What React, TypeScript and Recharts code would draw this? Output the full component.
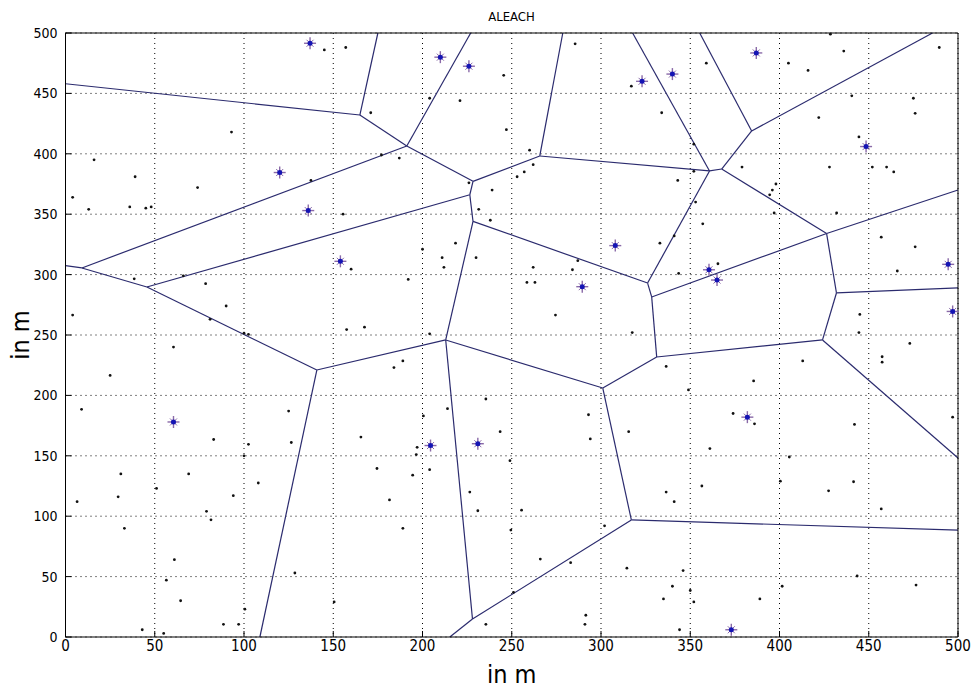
import { ScatterChart, Scatter, XAxis, YAxis, CartesianGrid, ReferenceLine, Label } from 'recharts'

const FONT = "'Liberation Sans Narrow', 'DejaVu Sans Condensed', 'Liberation Sans', sans-serif"

const TICKS = [0, 50, 100, 150, 200, 250, 300, 350, 400, 450, 500]

// ordinary sensor nodes [x, y] in m
const nodes: [number, number][] = [
  [145, 486], [157, 488], [93, 418], [16, 395], [39, 381], [74, 372], [137.5, 378], [4, 364],
  [13, 354], [36, 356], [45, 355], [48, 356], [155.5, 350],
  [285.5, 491], [245.5, 465], [317, 456], [334, 434], [221, 444], [171, 434], [247, 420], [260, 403],
  [177, 399], [187, 396.5], [262, 391], [257, 385], [253, 381], [226, 376], [239, 370], [231.5, 354],
  [238, 345], [204, 446],
  [428.5, 499], [436, 485], [489.5, 488], [359, 475], [405, 475], [416, 469], [440.5, 448], [475, 446],
  [476, 433.5], [422, 430], [444.5, 414], [428, 389], [452, 389], [460, 389], [464, 385], [379, 389],
  [352, 408], [352, 385.5], [343, 378], [398, 375], [396, 370], [394.5, 366], [397, 351], [432, 351],
  [353, 360], [357, 342], [457, 331], [341, 332],
  [476, 323], [466, 303], [365.5, 309], [343.5, 301], [333, 326], [445, 267], [444.5, 252], [473, 243],
  [457.5, 232], [457.5, 227.5], [413, 228.5], [336.5, 224], [385.5, 212], [349, 204.5], [374, 185],
  [386, 176.5], [442, 176], [497, 182],
  [218.5, 326], [200, 321], [211, 314], [230, 314], [212, 306], [192, 296], [287, 311.5], [262, 306],
  [284, 304], [258.5, 293.5], [263, 293.5], [274.5, 266.5], [167.5, 256.5], [204, 251], [317.5, 252],
  [189, 228.5], [184, 223], [235.5, 197], [214, 189], [200.5, 183], [293, 184], [315.5, 170], [294, 164],
  [243.5, 170], [165.5, 165.5],
  [160, 304.5], [38.5, 296.5], [78.5, 292.5], [90, 274], [4, 266.5], [81, 263], [66, 299], [100, 251.5],
  [102.5, 250.5], [60.5, 240], [157.5, 254.5], [25, 216.5], [9, 188.5], [125, 187], [83, 163.5],
  [102.5, 159.5], [126.5, 161],
  [100, 150], [31, 135], [69, 135], [51, 123], [108, 127.5], [6.5, 112], [29.5, 116], [94, 117], [79, 104],
  [81.5, 97], [33, 90], [61, 64], [128.5, 53], [56.5, 47], [64.5, 30], [100.5, 23], [150.5, 29],
  [88.5, 10.5], [97, 10.5], [43, 6], [55, 3],
  [197, 157], [196.5, 151], [174.5, 139.5], [204, 138.5], [194.5, 134], [249, 146], [226.5, 120],
  [181.5, 113.5], [231, 104.5], [255.5, 105], [189, 90], [249.5, 88.5], [302, 92], [266, 64.5],
  [283, 61.5], [314.5, 57], [335, 31.5], [251, 37], [291.5, 18], [291, 10.5], [235.5, 10.5],
  [361, 156], [405.5, 149], [400.5, 129], [336.5, 120], [356.5, 125], [341, 112], [427.5, 121],
  [441.5, 128.5], [457, 106], [346, 55], [340, 42], [350, 38.5], [352, 29], [389, 31.5], [401.5, 42],
  [443.5, 50.5], [476.5, 43], [344, 6],
]

// cluster heads
const heads: [number, number][] = [
  [137, 491.5], [120, 384.5], [136, 353], [210, 480], [226, 472.5], [323, 460], [387, 483.5],
  [340, 466], [448.5, 406], [154, 311], [308, 324], [289.5, 290], [360.5, 304], [365, 295.5],
  [494.5, 308.5], [497, 269.5], [60.5, 178], [204.5, 158.5], [231, 160], [382, 182], [373, 6],
]

// voronoi edges [x1, y1, x2, y2]
const edges: [number, number, number, number][] = [
  [0, 458, 164.9, 432.1], [175, 500, 164.9, 432.1], [164.9, 432.1, 191.2, 406.5], [191.2, 406.5, 227, 500],
  [191.2, 406.5, 9.2, 305.5], [9.2, 305.5, 0, 307.5], [9.2, 305.5, 45.6, 289.7], [45.6, 289.7, 226.5, 366.1],
  [45.6, 289.7, 140.8, 221], [140.8, 221, 108.9, 0], [140.8, 221, 213, 245.9], [191.2, 406.5, 228.3, 377.2],
  [228.3, 377.2, 226.5, 366.1], [226.5, 366.1, 228.3, 344.1], [228.3, 377.2, 265.7, 398.2],
  [265.7, 398.2, 278.6, 500], [265.7, 398.2, 360.8, 385.8], [228.3, 344.1, 213, 245.9],
  [228.3, 344.1, 326.1, 293], [213, 245.9, 301, 206.1], [213, 245.9, 228, 14.9], [228, 14.9, 215.3, 0],
  [228, 14.9, 317, 96.9], [317, 96.9, 301, 206.1], [317, 96.9, 500, 88.5], [301, 206.1, 331.2, 231.8],
  [331.2, 231.8, 328.4, 281.5], [328.4, 281.5, 326.1, 293], [326.1, 293, 360.8, 385.8],
  [360.8, 385.8, 317.7, 500], [360.8, 385.8, 367.6, 387.4], [367.6, 387.4, 384.4, 418.9],
  [384.4, 418.9, 355.3, 500], [384.4, 418.9, 485.7, 500], [367.6, 387.4, 426.4, 334],
  [426.4, 334, 328.4, 281.5], [426.4, 334, 500, 370], [426.4, 334, 431.9, 284.8], [431.9, 284.8, 500, 289],
  [431.9, 284.8, 424.1, 245.9], [424.1, 245.9, 331.2, 231.8], [424.1, 245.9, 500, 148.2],
]

const nodeData = nodes.map(([x, y]) => ({ x, y }))
const headData = heads.map(([x, y]) => ({ x, y }))

const NodeDot = (p: any) => <circle cx={p.cx} cy={p.cy} r={1.4} fill="#111" />

const HeadStar = (p: any) => {
  const { cx, cy } = p
  return (
    <g>
      <line x1={cx - 6} y1={cy} x2={cx + 6} y2={cy} stroke="#8a6aa8" strokeWidth={1.4} />
      <line x1={cx} y1={cy - 6} x2={cx} y2={cy + 6} stroke="#8a6aa8" strokeWidth={1.4} />
      <line x1={cx - 3.5} y1={cy - 3.5} x2={cx + 3.5} y2={cy + 3.5} stroke="#8a6aa8" strokeWidth={1} />
      <line x1={cx - 3.5} y1={cy + 3.5} x2={cx + 3.5} y2={cy - 3.5} stroke="#8a6aa8" strokeWidth={1} />
      <circle cx={cx} cy={cy} r={2.5} fill="#1414b4" />
    </g>
  )
}

const tickStyle = { fontSize: 15, fill: '#000', fontFamily: FONT }

export default function App() {
  return (
    <div style={{ position: 'absolute', left: 0, top: 0, width: 978, height: 688, background: '#fff' }}>
      <div style={{
        position: 'absolute', left: 65, width: 893, top: 9, textAlign: 'center',
        fontFamily: FONT, fontSize: 13, color: '#000',
      }}>
        ALEACH
      </div>
      <ScatterChart width={978} height={688} margin={{ top: 0, right: 0, bottom: 0, left: 0 }}>
        <CartesianGrid stroke="#000" strokeDasharray="1 4" ticks={TICKS} />
        <XAxis
          type="number" dataKey="x" domain={[0, 500]} ticks={TICKS} interval={0} height={51}
          tickSize={-6} tickMargin={9} tick={tickStyle}
          axisLine={{ stroke: '#000' }} tickLine={{ stroke: '#000' }}
        >
          <Label value="in m" position="insideBottom" offset={5}
            style={{ fontSize: 25, fill: '#000', fontFamily: FONT }} />
        </XAxis>
        <XAxis
          xAxisId="top" orientation="top" type="number" domain={[0, 500]} ticks={TICKS} interval={0}
          height={33} tickSize={-6} tick={false} axisLine={{ stroke: '#000' }} tickLine={{ stroke: '#000' }}
        />
        <YAxis
          type="number" dataKey="y" domain={[0, 500]} ticks={TICKS} interval={0} width={65.5}
          tickSize={-6} tickMargin={14} tick={{ ...tickStyle, fontSize: 14 }}
          axisLine={{ stroke: '#000' }} tickLine={{ stroke: '#000' }}
        >
          <Label
            content={({ viewBox }: any) => (
              <text
                x={20} y={viewBox.y + viewBox.height / 2}
                transform={`rotate(-90 20 ${viewBox.y + viewBox.height / 2})`}
                textAnchor="middle" dominantBaseline="central"
                style={{ fontSize: 25, fill: '#000', fontFamily: FONT }}
              >
                in m
              </text>
            )}
          />
        </YAxis>
        <YAxis
          yAxisId="right" orientation="right" type="number" domain={[0, 500]} ticks={TICKS} interval={0}
          width={20} tickSize={-6} tick={false} axisLine={{ stroke: '#000' }} tickLine={{ stroke: '#000' }}
        />
        {edges.map(([x1, y1, x2, y2], i) => (
          <ReferenceLine
            key={i}
            segment={[{ x: x1, y: y1 }, { x: x2, y: y2 }]}
            stroke="#2b2b6e"
            strokeWidth={1.2}
            ifOverflow="visible"
          />
        ))}
        <Scatter data={nodeData} shape={NodeDot} isAnimationActive={false} />
        <Scatter data={headData} shape={HeadStar} isAnimationActive={false} />
      </ScatterChart>
    </div>
  )
}
